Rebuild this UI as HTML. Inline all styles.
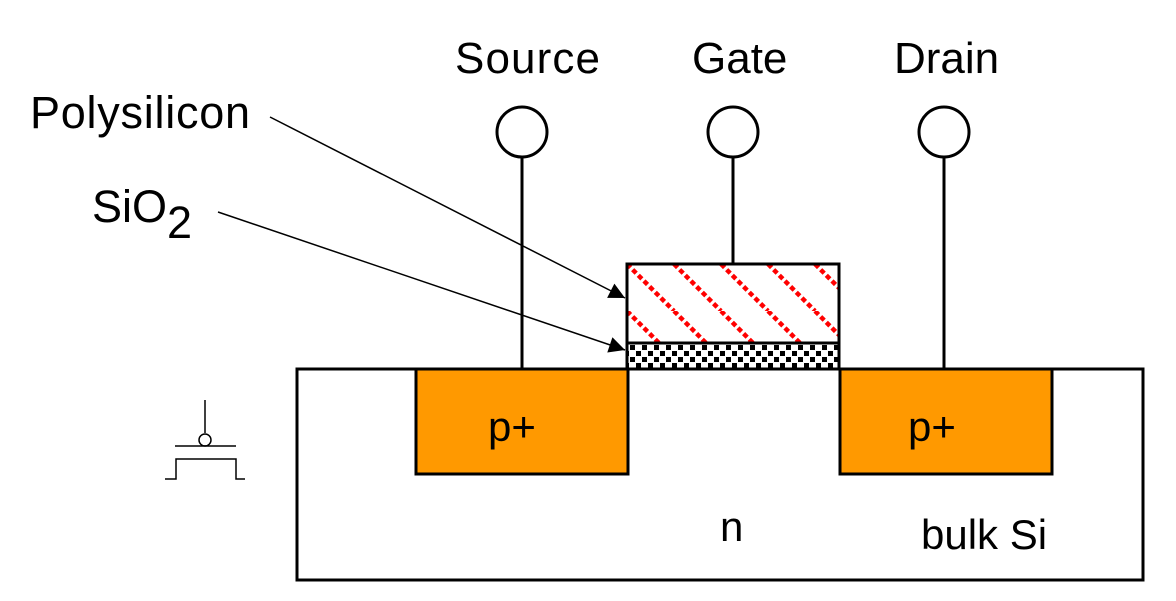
<!DOCTYPE html>
<html><head><meta charset="utf-8"><style>
html,body{margin:0;padding:0;background:#fff}
svg{display:block}
text{font-family:"Liberation Sans",Arial,sans-serif;fill:#000}
</style></head><body>
<svg width="1176" height="601" viewBox="0 0 1176 601" xmlns="http://www.w3.org/2000/svg">
<defs>
<pattern id="hatch" patternUnits="userSpaceOnUse" width="47" height="47" x="627" y="264">
<line x1="0" y1="0" x2="47" y2="47" stroke="#ff0000" stroke-width="4.5" stroke-dasharray="5 3"/>
<line x1="-47" y1="0" x2="0" y2="47" stroke="#ff0000" stroke-width="4.5" stroke-dasharray="5 3"/>
<line x1="47" y1="0" x2="94" y2="47" stroke="#ff0000" stroke-width="4.5" stroke-dasharray="5 3"/>
</pattern>
<pattern id="dots" patternUnits="userSpaceOnUse" width="12" height="12" x="630" y="345">
<rect x="0" y="0" width="5" height="5" fill="#000"/>
<rect x="6" y="6" width="5" height="5" fill="#000"/>
</pattern>
<marker id="arr" viewBox="0 0 10 10" refX="10" refY="5" markerWidth="22" markerHeight="16" markerUnits="userSpaceOnUse" orient="auto">
<path d="M0,0 L10,5 L0,10 z" fill="#000"/>
</marker>
</defs>

<rect x="297" y="369" width="846" height="211" fill="#fff" stroke="#000" stroke-width="3"/>
<rect x="416" y="369" width="212" height="105" fill="#ff9900" stroke="#000" stroke-width="3"/>
<rect x="840" y="369" width="212" height="105" fill="#ff9900" stroke="#000" stroke-width="3"/>

<rect x="627" y="264" width="212" height="79" fill="#fff"/>
<rect x="627" y="264" width="212" height="79" fill="url(#hatch)" stroke="#000" stroke-width="3"/>
<rect x="627" y="343" width="212" height="26" fill="#fff"/>
<rect x="627" y="343" width="212" height="26" fill="url(#dots)" stroke="#000" stroke-width="3"/>

<line x1="522" y1="157" x2="522" y2="369" stroke="#000" stroke-width="3"/>
<circle cx="522" cy="132" r="25" fill="#fff" stroke="#000" stroke-width="3"/>
<line x1="733" y1="157" x2="733" y2="264" stroke="#000" stroke-width="3"/>
<circle cx="733" cy="132" r="25" fill="#fff" stroke="#000" stroke-width="3"/>
<line x1="944" y1="157" x2="944" y2="369" stroke="#000" stroke-width="3"/>
<circle cx="944" cy="132" r="25" fill="#fff" stroke="#000" stroke-width="3"/>

<text x="455" y="73" font-size="44" textLength="145">Source</text>
<text x="692" y="73" font-size="44">Gate</text>
<text x="894" y="73" font-size="44">Drain</text>
<text x="30" y="128" font-size="45" textLength="220">Polysilicon</text>
<text x="92" y="222" font-size="45">SiO<tspan dy="16">2</tspan></text>
<text x="488" y="441" font-size="42">p+</text>
<text x="908" y="441" font-size="42">p+</text>
<text x="720" y="541" font-size="42">n</text>
<text x="921" y="549" font-size="42">bulk Si</text>

<line x1="270" y1="117" x2="625" y2="298" stroke="#000" stroke-width="1.5" marker-end="url(#arr)"/>
<line x1="218" y1="212" x2="625" y2="350" stroke="#000" stroke-width="1.5" marker-end="url(#arr)"/>

<g stroke="#000" stroke-width="1.5" fill="none">
<line x1="205" y1="400" x2="205" y2="433"/>
<circle cx="205" cy="440" r="6" fill="#fff"/>
<line x1="175" y1="446" x2="236" y2="446"/>
<polyline points="165,479 176,479 176,459 236,459 236,479 245,479"/>
</g>
</svg>
</body></html>
